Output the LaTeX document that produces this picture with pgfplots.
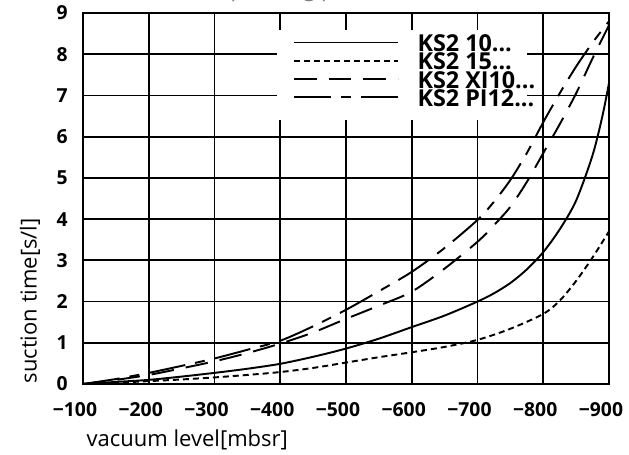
\documentclass[border=0pt]{standalone}
\usepackage{fontspec}
\setmainfont{Open Sans}
\usepackage{pgfplots}
\pgfplotsset{compat=1.18}

\begin{document}
\begin{tikzpicture}
\begin{axis}[
  at={(0,0)}, anchor=south west,
  scale only axis, width=394.5pt, height=278.25pt,
  x dir=reverse,
  xmin=-900, xmax=-100, ymin=0, ymax=9,
  xtick={-100,-200,...,-900},
  xticklabels={−100,−200,−300,−400,−500,−600,−700,−800,−900},
  ytick={0,1,...,9},
  yticklabels={0,1,2,3,4,5,6,7,8,9},
  ticklabel style={font=\fontsize{14.5}{16}\selectfont\bfseries},
  xticklabel style={xshift=-6pt, yshift=-10.5pt},
  yticklabel style={xshift=-8pt},
  major tick length=0pt,
  grid=major,
  major grid style={black, line width=1.3pt},
  axis line style={black, line width=1.3pt},
  every axis plot/.append style={black, line width=1.45pt, no markers},
  legend style={
    at={(0.3992,0.9316)}, anchor=north west,
    draw=none, fill=none, inner sep=0pt, outer sep=0pt,
    font=\fontsize{17.5}{17.5}\selectfont\bfseries,
    row sep=0pt,
    nodes={inner sep=0pt, outer sep=0pt, text height=10pt, text depth=3.7pt},
    /tikz/every odd column/.append style={column sep=14pt},
  },
  legend cell align=left,
  legend image code/.code={\draw[#1] (0pt,3.75pt) -- (78pt,3.75pt); \path (0pt,0pt);},
]
% white box behind the legend (hides the grid there)
\fill[white] (axis cs:-394.6,6.41) rectangle (axis cs:-774.8,8.59);

\addplot[solid, smooth] table {
x y
-100 0
-150 0.05
-200 0.1
-250 0.18
-300 0.27
-350 0.37
-400 0.49
-450 0.66
-500 0.86
-550 1.1
-600 1.38
-650 1.66
-700 2.0
-725 2.2
-750 2.45
-775 2.78
-800 3.2
-825 3.75
-850 4.45
-875 5.55
-890 6.5
-900 7.3
};
\addlegendentry{KS2 10...}

\addplot[dash pattern=on 4.5pt off 3pt, smooth] table {
x y
-100 0
-150 0.03
-200 0.07
-250 0.11
-300 0.16
-350 0.22
-400 0.29
-450 0.39
-500 0.52
-550 0.65
-600 0.77
-650 0.9
-700 1.07
-750 1.34
-800 1.7
-825 2.02
-850 2.5
-875 3.07
-900 3.7
};
\addlegendentry{KS2 15...}

\addplot[dash pattern=on 17pt off 9pt, smooth] table {
x y
-100 0
-150 0.1
-200 0.22
-250 0.38
-300 0.55
-350 0.75
-400 0.98
-450 1.25
-500 1.58
-550 1.9
-600 2.24
-650 2.8
-700 3.45
-725 3.85
-750 4.3
-775 4.9
-800 5.6
-825 6.3
-850 7.05
-875 7.9
-900 8.7
};
\addlegendentry{KS2 XI10...}

\addplot[dash pattern=on 27.75pt off 7.5pt on 7.5pt off 7.5pt, smooth] table {
x y
-100 0
-150 0.12
-200 0.27
-250 0.44
-300 0.62
-350 0.83
-400 1.05
-450 1.4
-500 1.8
-550 2.25
-600 2.72
-650 3.3
-700 3.98
-725 4.42
-750 4.95
-775 5.6
-800 6.35
-825 7.05
-850 7.7
-875 8.28
-900 8.8
};
\addlegendentry{KS2 PI12...}
\end{axis}

\node[anchor=base west, text=gray, font=\fontsize{16.5}{18}\selectfont]
  at (-41.25pt,290.5pt) {Suction time corresponding pressure};
\node[anchor=base west, font=\fontsize{16.5}{18}\selectfont]
  at (-0.75pt,-46.5pt) {vacuum level[mbsr]};
\node[rotate=90, anchor=west, font=\fontsize{16.5}{18}\selectfont]
  at (-39.75pt,-3pt) {suction time[s/l]};

\pgfresetboundingbox
\useasboundingbox (-62.25pt,-52.5pt) rectangle (409.5pt,288pt);
\end{tikzpicture}
\end{document}
